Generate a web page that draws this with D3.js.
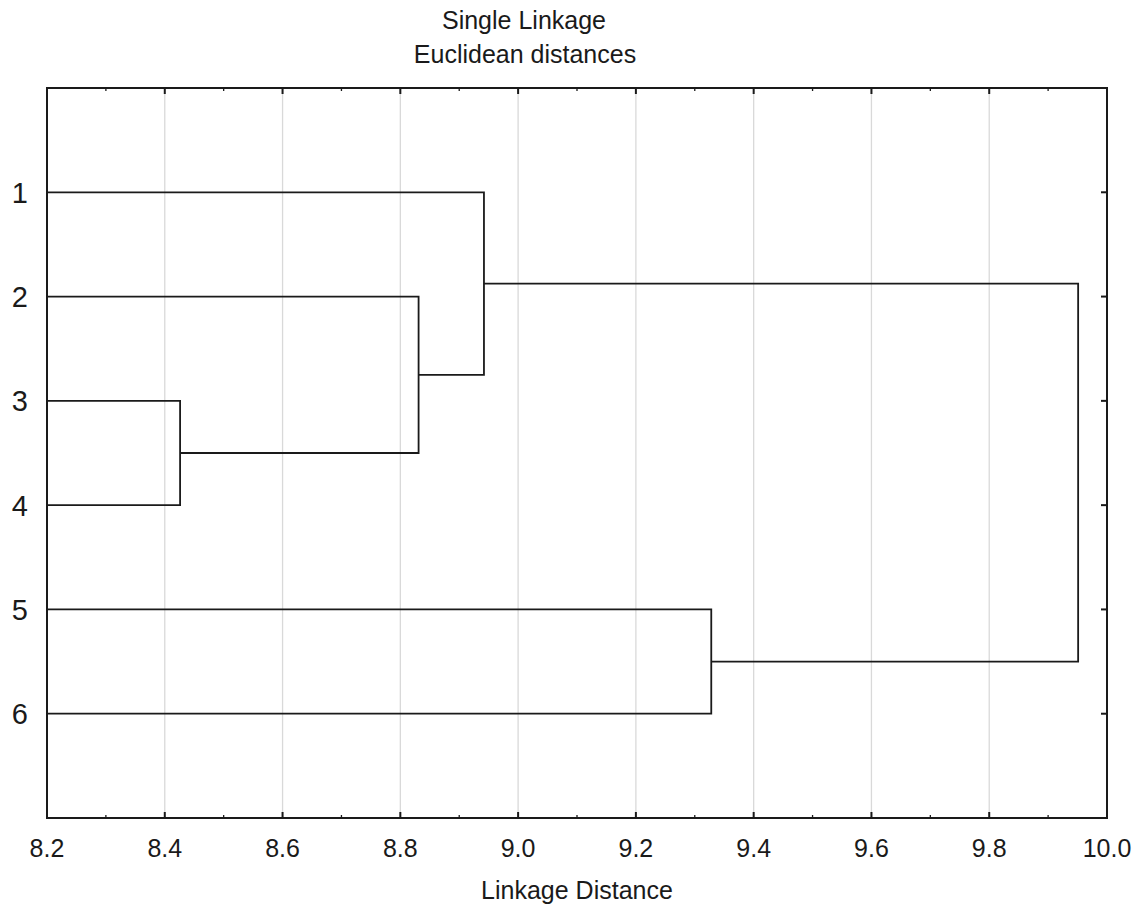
<!DOCTYPE html>
<html>
<head>
<meta charset="utf-8">
<script src="https://cdn.jsdelivr.net/npm/d3@7"></script>
<style>
  body { margin: 0; background: #fff; }
  text { font-family: "Liberation Sans", Arial, sans-serif; fill: #1a1a1a; }
</style>
</head>
<body>
<script>
// leaves, top to bottom
const leaves = ["1", "2", "3", "4", "5", "6"]

// merges: [left node, right node, linkage distance]; new nodes get ids 6, 7, ...
const mergeLeft = [2, 1, 0, 4, 8]
const mergeRight = [3, 6, 7, 5, 9]
const mergeHeight = [8.426, 8.831, 8.942, 9.328, 9.951]

const xTicks = [8.2, 8.4, 8.6, 8.8, 9.0, 9.2, 9.4, 9.6, 9.8, 10.0]
const xMinor = [8.3, 8.5, 8.7, 8.9, 9.1, 9.3, 9.5, 9.7, 9.9]

const width = 1141, height = 906
const margin = {left: 47, right: 34, top: 88, bottom: 88}

const svg = d3.select("body").append("svg")
  .attr("width", width)
  .attr("height", height)

const x = d3.scaleLinear()
  .domain([8.2, 10.0])
  .range([margin.left, width - margin.right])

const y = d3.scaleLinear()
  .domain([0, leaves.length + 1])
  .range([margin.top, height - margin.bottom])

// grid
svg.append("g")
  .selectAll("line")
  .data(xTicks.slice(1, -1))
  .join("line")
  .attr("x1", d => x(d)).attr("x2", d => x(d))
  .attr("y1", y(0)).attr("y2", y(7))
  .attr("stroke", "#d9d9d9")
  .attr("stroke-width", 1.3)

// node positions: leaves at x=min, merged nodes at their height
const nodes = leaves.map((d, i) => ({pos: i + 1, h: 8.2}))
mergeHeight.forEach((h, i) => {
  const a = nodes[mergeLeft[i]], b = nodes[mergeRight[i]]
  nodes.push({pos: (a.pos + b.pos) / 2, h: h, a: a, b: b})
})

const links = nodes.filter(d => d.a).map(d =>
  [[x(d.a.h), y(d.a.pos)], [x(d.h), y(d.a.pos)], [x(d.h), y(d.b.pos)], [x(d.b.h), y(d.b.pos)]]
)

svg.append("g")
  .selectAll("path")
  .data(links)
  .join("path")
  .attr("d", d3.line())
  .attr("fill", "none")
  .attr("stroke", "#1a1a1a")
  .attr("stroke-width", 1.8)

// frame
svg.append("rect")
  .attr("x", x(8.2)).attr("y", y(0))
  .attr("width", x(10) - x(8.2)).attr("height", y(7) - y(0))
  .attr("fill", "none")
  .attr("stroke", "#1a1a1a")
  .attr("stroke-width", 2)

// ticks, pointing inward
const ticks = svg.append("g").attr("stroke", "#1a1a1a").attr("stroke-width", 2)
xTicks.forEach(t => {
  ticks.append("line").attr("x1", x(t)).attr("x2", x(t)).attr("y1", y(7)).attr("y2", y(7) - 6)
  ticks.append("line").attr("x1", x(t)).attr("x2", x(t)).attr("y1", y(0)).attr("y2", y(0) + 6)
})
xMinor.forEach(t => {
  ticks.append("line").attr("x1", x(t)).attr("x2", x(t)).attr("y1", y(7)).attr("y2", y(7) - 3).attr("stroke-width", 1.3)
  ticks.append("line").attr("x1", x(t)).attr("x2", x(t)).attr("y1", y(0)).attr("y2", y(0) + 3).attr("stroke-width", 1.3)
})
leaves.forEach((d, i) => {
  ticks.append("line").attr("x1", x(10)).attr("x2", x(10) - 6).attr("y1", y(i + 1)).attr("y2", y(i + 1))
})

// x tick labels
svg.append("g")
  .selectAll("text")
  .data(xTicks)
  .join("text")
  .attr("x", d => x(d))
  .attr("y", y(7) + 39)
  .attr("text-anchor", "middle")
  .style("font-size", "25px")
  .text(d => d.toFixed(1))

// leaf labels
svg.append("g")
  .selectAll("text")
  .data(leaves)
  .join("text")
  .attr("x", 28)
  .attr("y", (d, i) => y(i + 1))
  .attr("dy", "0.36em")
  .attr("text-anchor", "end")
  .style("font-size", "29px")
  .text(d => d)

// titles
svg.append("text")
  .attr("x", 524).attr("y", 29)
  .attr("text-anchor", "middle")
  .style("font-size", "25px")
  .text("Single Linkage")

svg.append("text")
  .attr("x", 525).attr("y", 63)
  .attr("text-anchor", "middle")
  .style("font-size", "25px")
  .text("Euclidean distances")

svg.append("text")
  .attr("x", 577).attr("y", 899)
  .attr("text-anchor", "middle")
  .style("font-size", "25px")
  .text("Linkage Distance")
</script>
</body>
</html>
